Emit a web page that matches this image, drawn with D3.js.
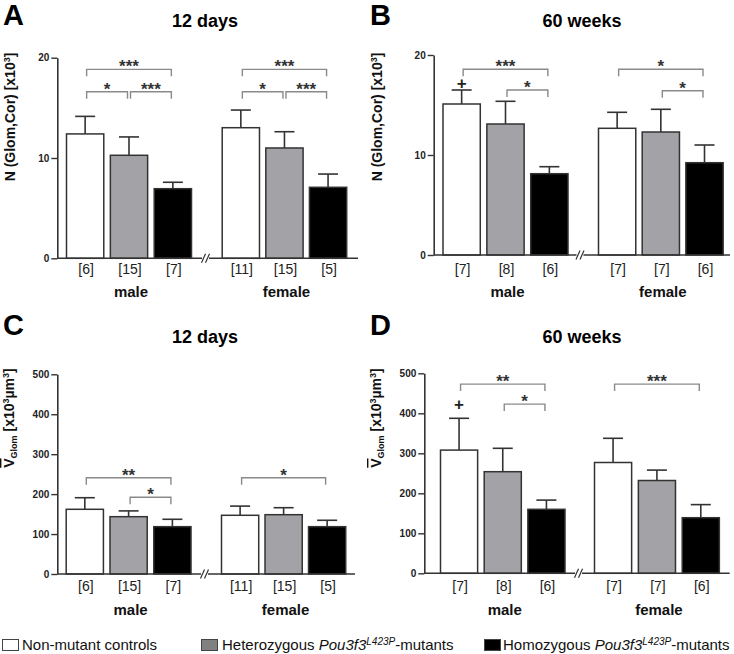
<!DOCTYPE html>
<html>
<head>
<meta charset="utf-8">
<script src="https://cdn.jsdelivr.net/npm/d3@7"></script>
<style>
body { margin: 0; background: #fff; }
svg { font-family: "Liberation Sans", Arial, sans-serif; }
</style>
</head>
<body>
<div id="fig"></div>
<script>
// groups: male (controls, het, hom), female (controls, het, hom)
var sexes = ["male", "female"];
var genotypeFills = ["#ffffff", "#a3a3a7", "#000000"];

// A: N(Glom,Cor) [x10^3], 12 days
var meanA = [12.4, 10.27, 6.94, 13.02, 11.0, 7.08];
var sdA = [1.75, 1.83, 0.64, 1.76, 1.62, 1.32];
var nA = [6, 15, 7, 11, 15, 5];
var sigA = [[0, 2, 18.84, "***"], [0, 1, 16.6, "*"], [1, 2, 16.6, "***"],
            [3, 5, 18.84, "***"], [3, 4, 16.6, "*"], [4, 5, 16.6, "***"]];

// B: N(Glom,Cor) [x10^3], 60 weeks
var meanB = [15.1, 13.1, 8.13, 12.67, 12.3, 9.23];
var sdB = [1.4, 2.27, 0.7, 1.6, 2.27, 1.77];
var nB = [7, 8, 6, 7, 7, 6];
var sigB = [[0, 2, 18.57, "***"], [1, 2, 16.5, "*"],
            [3, 5, 18.57, "*"], [4, 5, 16.43, "*"]];
var plusB = [0, 17.17];

// C: mean glomerular volume [x10^3 µm^3], 12 days
var meanC = [162, 143.5, 118.5, 147, 148.5, 118.5];
var sdC = [29, 14.5, 18.5, 23, 17.5, 16];
var nC = [6, 15, 7, 11, 15, 5];
var sigC = [[0, 2, 241, "**"], [1, 2, 192, "*"], [3, 5, 241, "*"]];

// D: mean glomerular volume [x10^3 µm^3], 60 weeks
var meanD = [308, 254, 160, 277, 232, 139];
var sdD = [79.5, 58.5, 23, 60.5, 26, 32.7];
var nD = [7, 8, 6, 7, 7, 6];
var sigD = [[0, 2, 473, "**"], [1, 2, 423, "*"], [3, 5, 473, "***"]];
var plusD = [0, 423];

var ticksN = [0, 10, 20];
var ticksV = [0, 100, 200, 300, 400, 500];

var svg = d3.select("#fig")
    .append("svg")
    .attr("width", 734)
    .attr("height", 654);

function yLabelN(t) {
    t.append("tspan").text("N (Glom,Cor) [x10");
    t.append("tspan").attr("font-size", "9px").attr("dy", "-5").text("3");
    t.append("tspan").attr("dy", "5").text("]");
}

function yLabelV(t) {
    t.append("tspan").style("text-decoration", "overline").text("V");
    t.append("tspan").attr("font-size", "9px").attr("dy", "3").text("Glom");
    t.append("tspan").attr("dy", "-3").text(" [x10");
    t.append("tspan").attr("font-size", "9px").attr("dy", "-5").text("3");
    t.append("tspan").attr("dy", "5").text("\u00b5m");
    t.append("tspan").attr("font-size", "9px").attr("dy", "-5").text("3");
    t.append("tspan").attr("dy", "5").text("]");
}

function panel(L, mean, sd, n, sig, plus, ymax, ticks, ylab) {
    var g = svg.append("g");

    var y = d3.scaleLinear().domain([0, ymax]).range([L.y0, L.y1]);
    var xm = d3.scaleBand().domain([0, 1, 2]).range(L.male).paddingInner(0.15);
    var xf = d3.scaleBand().domain([3, 4, 5]).range(L.female).paddingInner(0.15);
    var bw = xm.bandwidth();
    function xb(i) { return i < 3 ? xm(i) : xf(i); }
    function cx(i) { return xb(i) + bw / 2; }

    var rows = mean.map(function(m, i) { return {i: i, m: m, sd: sd[i], n: n[i]}; });

    // letter + title
    g.append("text").attr("x", L.lx).attr("y", L.ly)
        .attr("font-size", "29px").attr("font-weight", "bold").text(L.letter);
    g.append("text").attr("x", L.tx).attr("y", L.ty).attr("text-anchor", "middle")
        .attr("font-size", "18px").attr("font-weight", "bold").text(L.title);

    // y label
    var t = g.append("text")
        .attr("transform", "translate(" + L.yx + "," + L.yy + ") rotate(-90)")
        .attr("text-anchor", "middle")
        .attr("font-size", "14px").attr("font-weight", "bold").attr("fill", "#111");
    ylab(t);

    // bars
    g.selectAll(".bar")
        .data(rows)
        .enter()
        .append("rect")
        .attr("x", function(d) { return xb(d.i); })
        .attr("y", function(d) { return y(d.m); })
        .attr("width", bw)
        .attr("height", function(d) { return y(0) - y(d.m); })
        .attr("fill", function(d) { return genotypeFills[d.i % 3]; })
        .attr("stroke", "#333")
        .attr("stroke-width", 1.5);

    // error bars (upper only)
    var eb = g.selectAll(".err").data(rows).enter().append("g")
        .attr("stroke", "#333").attr("stroke-width", 1.6);
    eb.append("line")
        .attr("x1", function(d) { return cx(d.i); })
        .attr("x2", function(d) { return cx(d.i); })
        .attr("y1", function(d) { return y(d.m); })
        .attr("y2", function(d) { return y(d.m + d.sd); });
    eb.append("line")
        .attr("x1", function(d) { return cx(d.i) - 10; })
        .attr("x2", function(d) { return cx(d.i) + 10; })
        .attr("y1", function(d) { return y(d.m + d.sd); })
        .attr("y2", function(d) { return y(d.m + d.sd); });

    // y axis
    var ax = g.append("g")
        .attr("transform", "translate(" + L.x0 + ",0)")
        .call(d3.axisLeft(y).tickValues(ticks).tickSize(6).tickSizeOuter(0).tickPadding(2));
    ax.select(".domain").attr("stroke", "#333").attr("stroke-width", 1.6);
    ax.selectAll(".tick line").attr("stroke", "#333").attr("stroke-width", 1.4);
    ax.selectAll(".tick text").attr("fill", "#222")
        .attr("font-family", "Liberation Sans, Arial, sans-serif")
        .attr("font-size", "10px").attr("font-weight", "bold");

    // x axis with break
    var xa = g.append("g").attr("stroke", "#333").attr("stroke-width", 1.6);
    xa.append("line").attr("x1", L.x0).attr("x2", L.brk - 4).attr("y1", y(0)).attr("y2", y(0));
    xa.append("line").attr("x1", L.brk + 3).attr("x2", L.end).attr("y1", y(0)).attr("y2", y(0));
    xa.append("line").attr("stroke-width", 1.2)
        .attr("x1", L.brk - 4.5).attr("y1", y(0) + 4.5).attr("x2", L.brk - 0.5).attr("y2", y(0) - 4.5);
    xa.append("line").attr("stroke-width", 1.2)
        .attr("x1", L.brk - 0.5).attr("y1", y(0) + 4.5).attr("x2", L.brk + 3.5).attr("y2", y(0) - 4.5);

    // n labels
    g.selectAll(".n").data(rows).enter().append("text")
        .attr("x", function(d) { return cx(d.i) + 1; })
        .attr("y", L.ny)
        .attr("text-anchor", "middle")
        .attr("font-size", "14px").attr("fill", "#222")
        .text(function(d) { return "[" + d.n + "]"; });

    // sex labels
    g.selectAll(".sex").data(sexes).enter().append("text")
        .attr("x", function(d, k) { return (k === 0 ? cx(1) : cx(4)) + 2; })
        .attr("y", L.sy)
        .attr("text-anchor", "middle")
        .attr("font-size", "15px").attr("font-weight", "bold").attr("fill", "#111")
        .text(function(d) { return d; });

    // significance brackets
    var sg = g.selectAll(".sig").data(sig).enter().append("g");
    sg.append("path")
        .attr("d", function(d) {
            var x1 = cx(d[0]) + 1.5, x2 = cx(d[1]) - 1.5, yl = y(d[2]);
            return "M" + x1 + "," + (yl + 7) + "V" + yl + "H" + x2 + "V" + (yl + 7);
        })
        .attr("fill", "none").attr("stroke", "#8a8a8a").attr("stroke-width", 1.4);
    sg.append("text")
        .attr("x", function(d) { return (cx(d[0]) + cx(d[1])) / 2; })
        .attr("y", function(d) { return y(d[2]) + 3; })
        .attr("text-anchor", "middle")
        .attr("font-size", "17px").attr("font-weight", "bold").attr("fill", "#333")
        .text(function(d) { return d[3]; });

    if (plus) {
        g.append("text")
            .attr("x", cx(plus[0]))
            .attr("y", y(plus[1]))
            .attr("dy", "0.35em")
            .attr("text-anchor", "middle")
            .attr("font-size", "17px").attr("font-weight", "bold").attr("fill", "#222")
            .text("+");
    }
}

panel({letter: "A", title: "12 days", lx: 3, ly: 25, tx: 205, ty: 27, yx: 15, yy: 117,
       x0: 57.3, y0: 258.3, y1: 57.7, male: [66.5, 191.5], female: [222.2, 346.5],
       brk: 206, end: 358, ny: 273.5, sy: 297},
      meanA, sdA, nA, sigA, null, 20, ticksN, yLabelN);

panel({letter: "B", title: "60 weeks", lx: 370, ly: 25, tx: 582, ty: 27, yx: 382, yy: 117,
       x0: 433.7, y0: 255, y1: 55, male: [443, 568], female: [598.5, 723],
       brk: 580.5, end: 730, ny: 273.5, sy: 297},
      meanB, sdB, nB, sigB, plusB, 20, ticksN, yLabelN);

panel({letter: "C", title: "12 days", lx: 3, ly: 335, tx: 205, ty: 343, yx: 14, yy: 418,
       x0: 57.3, y0: 574, y1: 374.3, male: [66.2, 191], female: [221.5, 345.5],
       brk: 205, end: 355, ny: 591, sy: 615},
      meanC, sdC, nC, sigC, null, 500, ticksV, yLabelV);

panel({letter: "D", title: "60 weeks", lx: 370, ly: 335, tx: 582, ty: 343, yx: 381, yy: 418,
       x0: 424.3, y0: 573.3, y1: 373.3, male: [440.5, 565], female: [594.5, 719.5],
       brk: 579, end: 729.7, ny: 591, sy: 615},
      meanD, sdD, nD, sigD, plusD, 500, ticksV, yLabelV);

// legend
var legendX = [2, 201, 484];
var legendFills = ["#ffffff", "#808080", "#000000"];
var lg = svg.append("g");
lg.selectAll("rect").data(legendX).enter().append("rect")
    .attr("x", function(d) { return d + 0.5; })
    .attr("y", 639.5)
    .attr("width", 16)
    .attr("height", 11)
    .attr("fill", function(d, i) { return legendFills[i]; })
    .attr("stroke", "#444")
    .attr("stroke-width", 1);

function legendText(x, parts) {
    var t = lg.append("text").attr("x", x).attr("y", 650).attr("font-size", "15px").attr("fill", "#111");
    parts.forEach(function(p) {
        var s = t.append("tspan").text(p[0]);
        if (p[1] === "i") s.attr("font-style", "italic");
        if (p[1] === "sup") s.attr("font-style", "italic").attr("font-size", "10px").attr("dy", "-5");
        if (p[1] === "back") s.attr("dy", "5");
    });
}
legendText(22, [["Non-mutant controls"]]);
legendText(222, [["Heterozygous "], ["Pou3f3", "i"], ["L423P", "sup"], ["-mutants", "back"]]);
legendText(503, [["Homozygous "], ["Pou3f3", "i"], ["L423P", "sup"], ["-mutants", "back"]]);
</script>
</body>
</html>
